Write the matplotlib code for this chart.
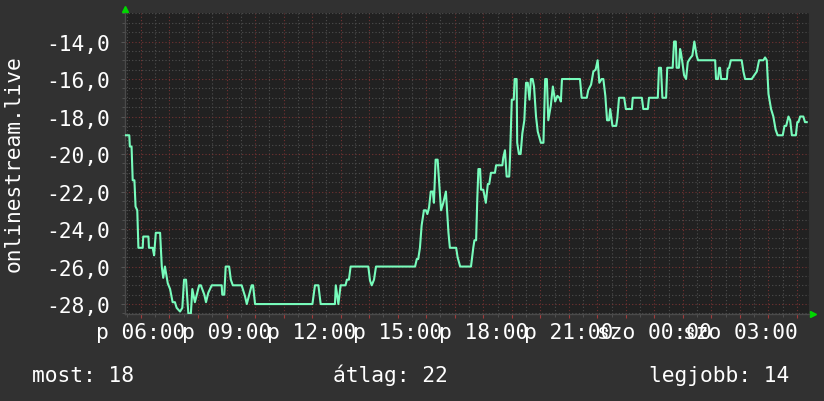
import matplotlib
matplotlib.use("Agg")
import matplotlib.pyplot as plt
from matplotlib.ticker import MultipleLocator, FixedLocator

# idő (óra, a 24 órás ablak elejétől folytatva) és érték
idopontok = [
    5.44, 5.59, 5.61, 5.67, 5.71, 5.77, 5.81, 5.87, 5.91, 6.06,
    6.08, 6.26, 6.28, 6.41, 6.46, 6.52, 6.67, 6.73, 6.78, 6.84,
    6.94, 7.02, 7.11, 7.19, 7.25, 7.37, 7.45, 7.51, 7.58, 7.66,
    7.75, 7.80, 7.89, 8.04, 8.10, 8.22, 8.28, 8.36, 8.48, 8.83,
    8.85, 8.92, 8.97, 9.09, 9.15, 9.22, 9.53, 9.65, 9.71, 9.88,
    9.93, 10.00, 12.01, 12.10, 12.22, 12.30, 12.80, 12.83, 12.92, 13.00,
    13.17, 13.22, 13.29, 13.35, 13.97, 14.03, 14.09, 14.17, 14.24, 15.61,
    15.67, 15.72, 15.78, 15.84, 15.92, 15.99, 16.04, 16.10, 16.16, 16.23,
    16.27, 16.33, 16.40, 16.45, 16.52, 16.60, 16.69, 16.78, 16.83, 17.05,
    17.10, 17.19, 17.57, 17.65, 17.69, 17.75, 17.79, 17.83, 17.89, 17.92,
    18.00, 18.09, 18.16, 18.21, 18.27, 18.41, 18.45, 18.67, 18.70, 18.76,
    18.82, 18.91, 18.94, 19.00, 19.07, 19.10, 19.17, 19.19, 19.25, 19.31,
    19.37, 19.44, 19.50, 19.56, 19.62, 19.67, 19.73, 19.78, 19.85, 19.91,
    20.02, 20.11, 20.17, 20.23, 20.28, 20.37, 20.44, 20.52, 20.60, 20.67,
    20.72, 20.76, 21.39, 21.45, 21.63, 21.68, 21.78, 21.86, 21.94, 22.01,
    22.07, 22.15, 22.21, 22.28, 22.34, 22.41, 22.45, 22.53, 22.66, 22.70,
    22.76, 22.94, 23.00, 23.21, 23.24, 23.56, 23.61, 23.77, 23.81, 24.12,
    24.16, 24.23, 24.28, 24.41, 24.45, 24.64, 24.69, 24.75, 24.78, 24.86,
    24.90, 24.93, 24.98, 25.04, 25.11, 25.17, 25.25, 25.33, 25.40, 25.48,
    25.53, 25.60, 26.13, 26.16, 26.23, 26.27, 26.30, 26.34, 26.54, 26.57,
    26.62, 26.68, 27.06, 27.12, 27.18, 27.41, 27.50, 27.59, 27.67, 27.82,
    27.88, 27.94, 28.00, 28.09, 28.17, 28.25, 28.32, 28.50, 28.56, 28.62,
    28.70, 28.76, 28.82, 28.96, 29.01, 29.05, 29.11, 29.22, 29.28, 29.34,
]
ertekek = [
    -19.0, -19.0, -19.6, -19.6, -21.4, -21.4, -22.8, -23.0, -25.0, -25.0,
    -24.4, -24.4, -25.0, -25.0, -25.4, -24.2, -24.2, -26.0, -26.6, -26.0,
    -26.9, -27.2, -27.9, -27.9, -28.2, -28.4, -28.2, -26.7, -26.7, -28.5,
    -28.5, -27.2, -27.9, -27.0, -27.0, -27.5, -27.9, -27.4, -27.0, -27.0,
    -27.5, -27.5, -26.0, -26.0, -26.7, -27.0, -27.0, -27.6, -28.0, -27.0,
    -27.0, -28.0, -28.0, -27.0, -27.0, -28.0, -28.0, -27.0, -28.0, -27.0,
    -27.0, -26.7, -26.7, -26.0, -26.0, -26.75, -27.0, -26.7, -26.0, -26.0,
    -25.6, -25.6, -25.0, -23.8, -23.0, -23.0, -23.2, -22.85, -22.0, -22.0,
    -22.6, -20.3, -20.3, -21.4, -23.0, -22.6, -22.0, -24.2, -25.0, -25.0,
    -25.5, -26.0, -26.0, -25.0, -24.6, -24.6, -22.4, -20.8, -20.8, -21.9,
    -21.9, -22.6, -21.6, -21.6, -21.0, -21.0, -20.6, -20.6, -20.2, -19.8,
    -21.2, -21.2, -20.1, -17.1, -17.1, -16.0, -16.0, -19.4, -20.0, -20.0,
    -18.9, -18.2, -16.2, -16.2, -17.1, -16.0, -16.0, -16.4, -18.0, -18.8,
    -19.4, -19.4, -16.0, -16.0, -18.2, -17.4, -16.4, -17.2, -16.9, -17.0,
    -17.2, -16.0, -16.0, -17.0, -17.0, -16.6, -16.3, -15.6, -15.5, -15.0,
    -16.2, -16.0, -16.0, -16.9, -18.2, -18.2, -17.6, -18.5, -18.5, -18.1,
    -17.0, -17.0, -17.6, -17.6, -17.0, -17.0, -17.6, -17.6, -17.0, -17.0,
    -15.4, -15.4, -17.0, -17.0, -15.4, -15.4, -14.0, -14.0, -15.4, -15.4,
    -14.4, -14.6, -15.1, -15.8, -16.0, -15.1, -14.9, -14.75, -14.0, -14.75,
    -15.0, -15.0, -15.0, -16.0, -16.0, -15.4, -15.4, -16.0, -16.0, -15.45,
    -15.4, -15.0, -15.0, -15.6, -16.0, -16.0, -15.8, -15.6, -15.0, -15.0,
    -14.85, -15.0, -16.8, -17.6, -18.0, -18.7, -19.0, -19.0, -18.5, -18.5,
    -18.0, -18.2, -19.0, -19.0, -18.3, -18.3, -18.0, -18.0, -18.3, -18.3,
]

cimke_orak = [6, 9, 12, 15, 18, 21, 24, 27]
cimke_szovegek = ["p 06:00", "p 09:00", "p 12:00", "p 15:00",
                  "p 18:00", "p 21:00", "szo 00:00", "szo 03:00"]
y_tickek = [-28, -26, -24, -22, -20, -18, -16, -14]

sor_cimke = "onlinestream.live"
most, atlag, legjobb = 18, 22, 14

hatter = "#313131"
rajzter = "#212121"
vonal_szin = "#78fcbc"
racs_kicsi = "#4e4e4e"
racs_nagy = "#743232"
betumeret = 15.3

plt.rcParams["font.family"] = ["DejaVu Sans Mono"]

fig = plt.figure(figsize=(8.24, 4.02), dpi=100, facecolor=hatter)
ax = fig.add_axes([125 / 824, 1 - 315 / 402, 684 / 824, 301 / 402])
ax.set_facecolor(rajzter)

ax.plot(idopontok, ertekek, color=vonal_szin, lw=1.5, zorder=3)

ax.set_xlim(5.44, 29.42)
ax.set_ylim(-28.53, -12.48)

# racs: kicsi 30 percenkent / 0.5 egysegenkent, nagy orankent / 2 egysegenkent
ax.xaxis.set_major_locator(MultipleLocator(1))
ax.xaxis.set_minor_locator(MultipleLocator(0.5))
ax.yaxis.set_major_locator(FixedLocator(y_tickek))
ax.yaxis.set_minor_locator(MultipleLocator(0.5))
ax.grid(which="minor", color=racs_kicsi, linestyle=(0, (1, 2)), lw=0.8)
ax.grid(which="major", color=racs_nagy, linestyle=(0, (1, 2)), lw=0.8)
ax.set_axisbelow(True)

ax.set_xticklabels([])
for h, szoveg in zip(cimke_orak, cimke_szovegek):
    ax.text(h, -0.025, szoveg, transform=ax.get_xaxis_transform(),
            ha="center", va="top", color="white", fontsize=betumeret)

ax.set_yticklabels([f"{v:.1f}".replace(".", ",") for v in y_tickek])
ax.tick_params(axis="y", which="major", colors="white", labelsize=betumeret,
               length=3, pad=8)
ax.tick_params(axis="y", which="minor", length=2, color="#555555")
ax.tick_params(axis="x", which="major", length=3, color="#a03c3c")
ax.tick_params(axis="x", which="minor", length=2, color="#555555")
ax.tick_params(axis="y", which="major", color="#555555")

for s in ["top", "right"]:
    ax.spines[s].set_visible(False)
for s in ["left", "bottom"]:
    ax.spines[s].set_color("#4a4a4a")
    ax.spines[s].set_linewidth(1)

# nyilak a tengelyek vegen
ax.plot([0], [1.012], marker="^", color="#00d800", ms=5,
        transform=ax.transAxes, clip_on=False)
ax.plot([1.006], [0], marker=">", color="#00d800", ms=5,
        transform=ax.transAxes, clip_on=False)

fig.text(14 / 824, 1 - 164 / 402, sor_cimke, rotation=90, ha="center",
         va="center", color="white", fontsize=betumeret)

alap = 1 - 382 / 402
fig.text(32 / 824, alap, f"most: {most}", color="white", fontsize=betumeret,
         va="baseline", ha="left")
fig.text(333 / 824, alap, f"átlag: {atlag}", color="white", fontsize=betumeret,
         va="baseline", ha="left")
fig.text(649 / 824, alap, f"legjobb: {legjobb}", color="white",
         fontsize=betumeret, va="baseline", ha="left")

plt.savefig("out.png", dpi=100, facecolor=hatter)
plt.close()
